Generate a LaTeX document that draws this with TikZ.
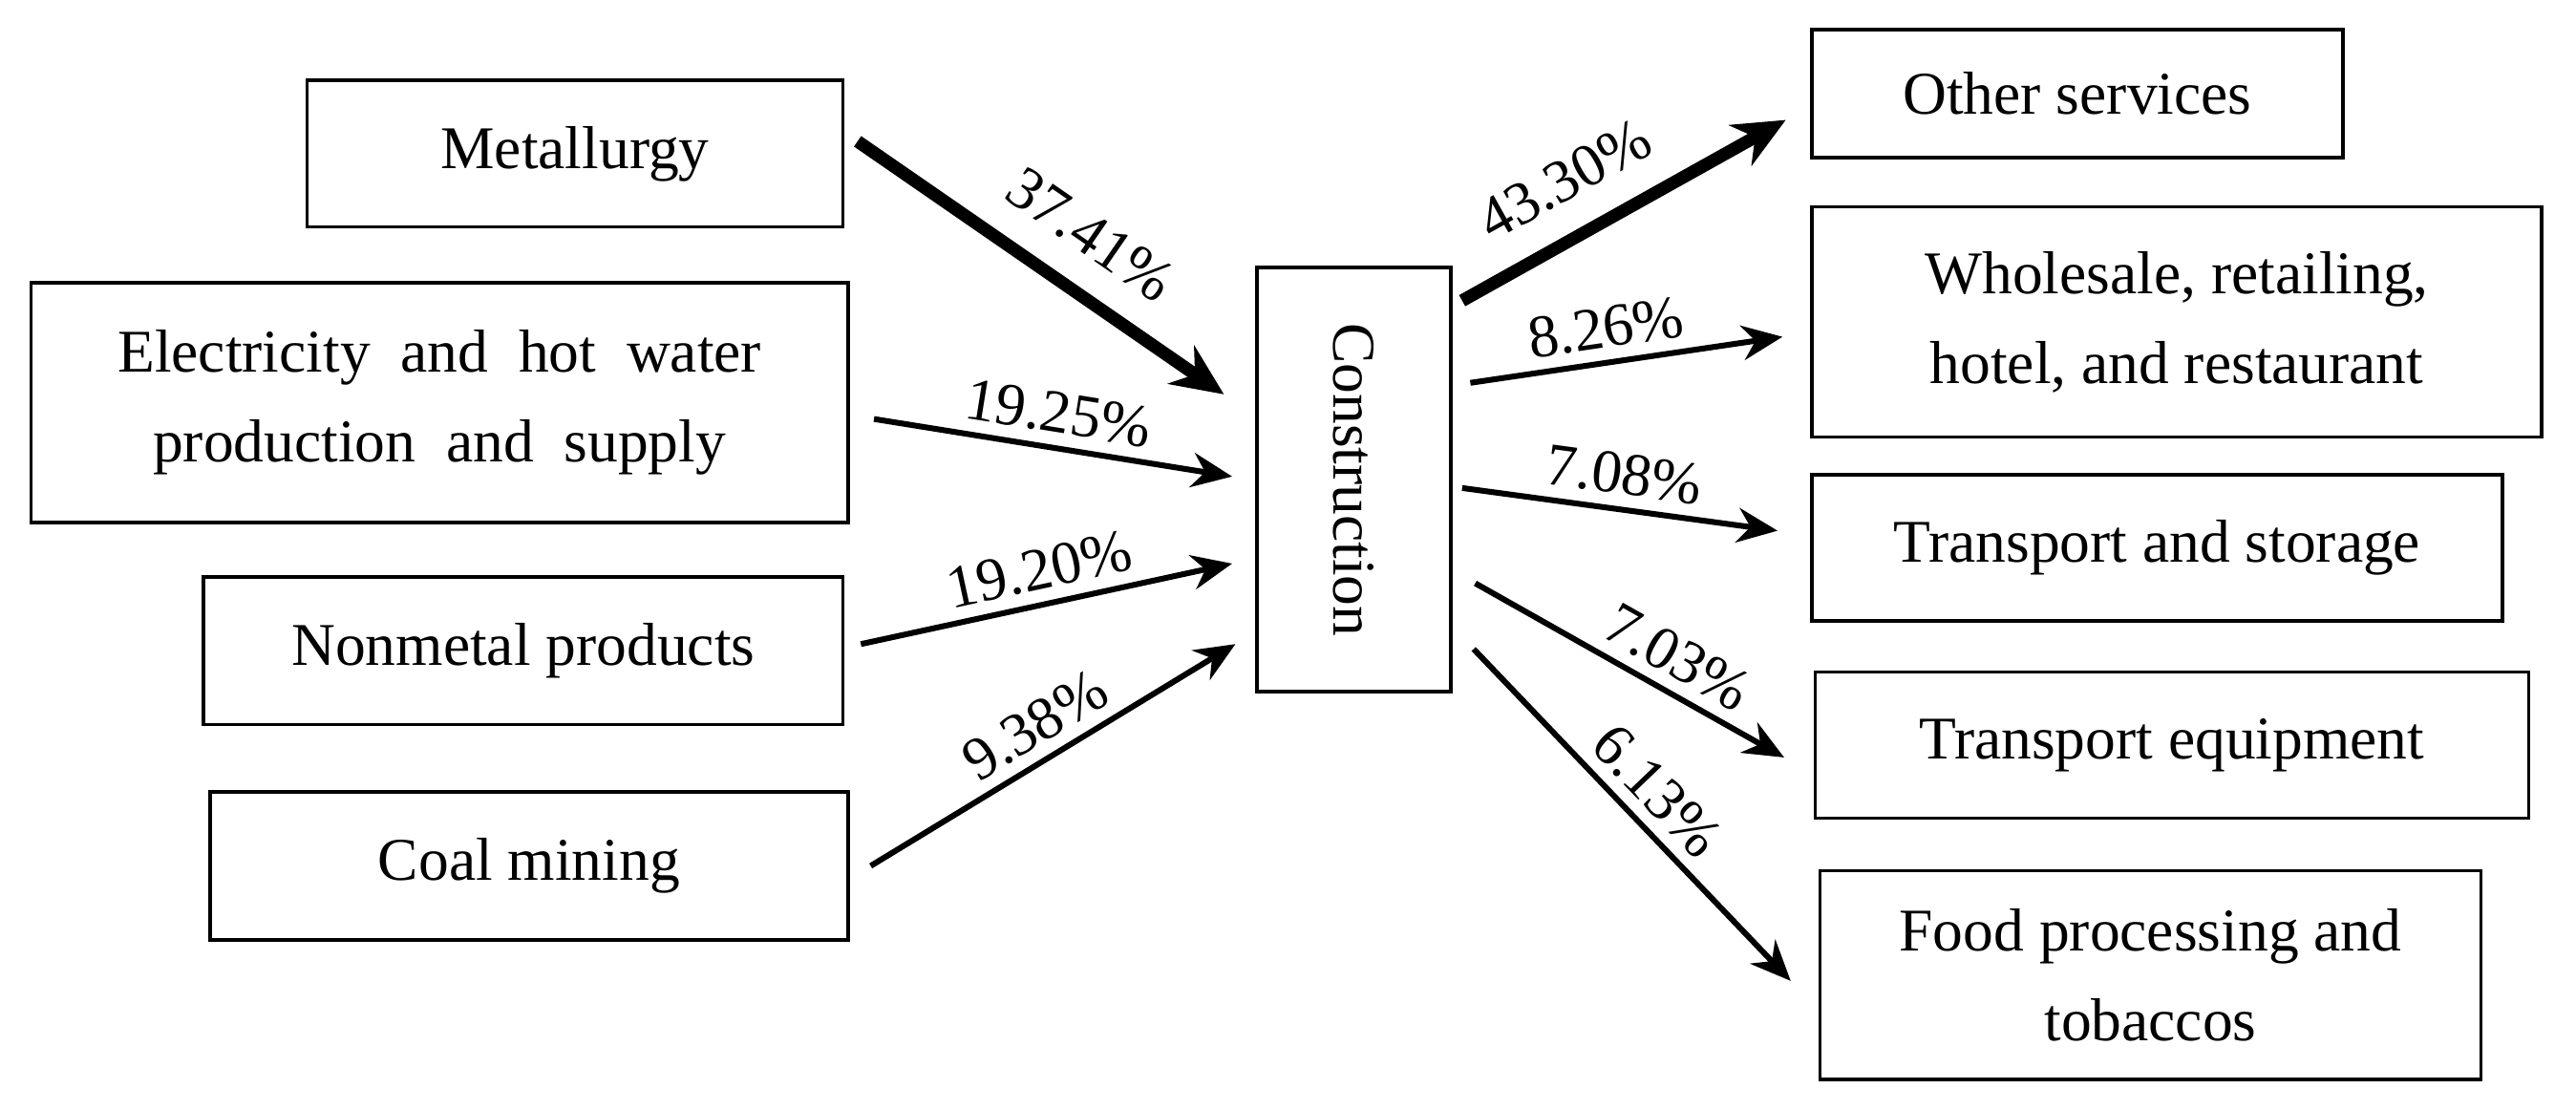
\documentclass[tikz,border=0pt]{standalone}
\usepackage{fontspec}
\setmainfont{Liberation Serif}
\usetikzlibrary{arrows.meta}
\begin{document}
\begin{tikzpicture}[x=0.01cm,y=-0.01cm,
 box/.style={draw,line width=0.6pt,inner sep=0pt,align=center,font=\fontsize{10.5}{15.5}\selectfont},
 arr/.style={-{Stealth[length=7pt,width=6pt]},line width=1pt},
 thick arr/.style={-{Stealth[length=9pt,width=8pt]},line width=2.2pt},
 lab/.style={font=\fontsize{10.5}{13}\selectfont,inner sep=2pt}]
\useasboundingbox (0,0) rectangle (1568,675);
\node[box,minimum width=3.26cm,minimum height=0.89cm] (met) at (350,93.5) {Metallurgy};
\node[box,minimum width=4.97cm,minimum height=1.46cm] (ele) at (267.5,245) {Electricity\ \ and\ \ hot\ \ water\\production\ \ and\ \ supply};
\node[box,minimum width=3.89cm,minimum height=0.9cm] (non) at (318.5,396) {Nonmetal products};
\node[box,minimum width=3.88cm,minimum height=0.9cm] (coal) at (322,527) {Coal mining};
\node[box,minimum width=1.18cm,minimum height=2.58cm] (con) at (824,292) {};
\node[rotate=-90,font=\fontsize{10.5}{13}\selectfont] (contxt) at (con.center) {Construction};
\node[box,minimum width=3.23cm,minimum height=0.78cm] (oth) at (1264.5,57) {Other services};
\node[box,minimum width=4.44cm,minimum height=1.4cm] (who) at (1325,196) {Wholesale, retailing,\\hotel, and restaurant};
\node[box,minimum width=4.2cm,minimum height=0.89cm] (tas) at (1313,333.5) {Transport and storage};
\node[box,minimum width=4.34cm,minimum height=0.89cm] (teq) at (1322,453.5) {Transport equipment};
\node[box,minimum width=4.02cm,minimum height=1.27cm] (food) at (1309,593.5) {Food processing and\\tobaccos};
% coordinates
\coordinate (a1) at (522,86); \coordinate (b1) at (745,240);
\coordinate (a2) at (532,255); \coordinate (b2) at (750,290);
\coordinate (a3) at (524,392); \coordinate (b3) at (750,343);
\coordinate (a4) at (530,527); \coordinate (b4) at (752,392);
\coordinate (c1) at (890,183); \coordinate (d1) at (1087,73);
\coordinate (c2) at (895,233); \coordinate (d2) at (1085,205);
\coordinate (c3) at (890,297); \coordinate (d3) at (1082,323);
\coordinate (c4) at (898,355); \coordinate (d4) at (1086,461);
\coordinate (c5) at (897,395); \coordinate (d5) at (1090,597);
\draw[thick arr] (a1) -- node[lab,above=3pt,sloped,pos=0.55] {37.41\%} (b1);
\draw[arr] (a2) -- node[lab,above,sloped] {19.25\%} (b2);
\draw[arr] (a3) -- node[lab,above,sloped] {19.20\%} (b3);
\draw[arr] (a4) -- node[lab,above,sloped] {9.38\%} (b4);
\draw[thick arr] (c1) -- node[lab,above=3pt,sloped,pos=0.4] {43.30\%} (d1);
\draw[arr] (c2) -- node[lab,above,sloped,pos=0.45] {8.26\%} (d2);
\draw[arr] (c3) -- node[lab,above,sloped,pos=0.5] {7.08\%} (d3);
\draw[arr] (c4) -- node[lab,above,sloped,pos=0.6] {7.03\%} (d4);
\draw[arr] (c5) -- node[lab,above,sloped,pos=0.5] {6.13\%} (d5);
\end{tikzpicture}
\end{document}
